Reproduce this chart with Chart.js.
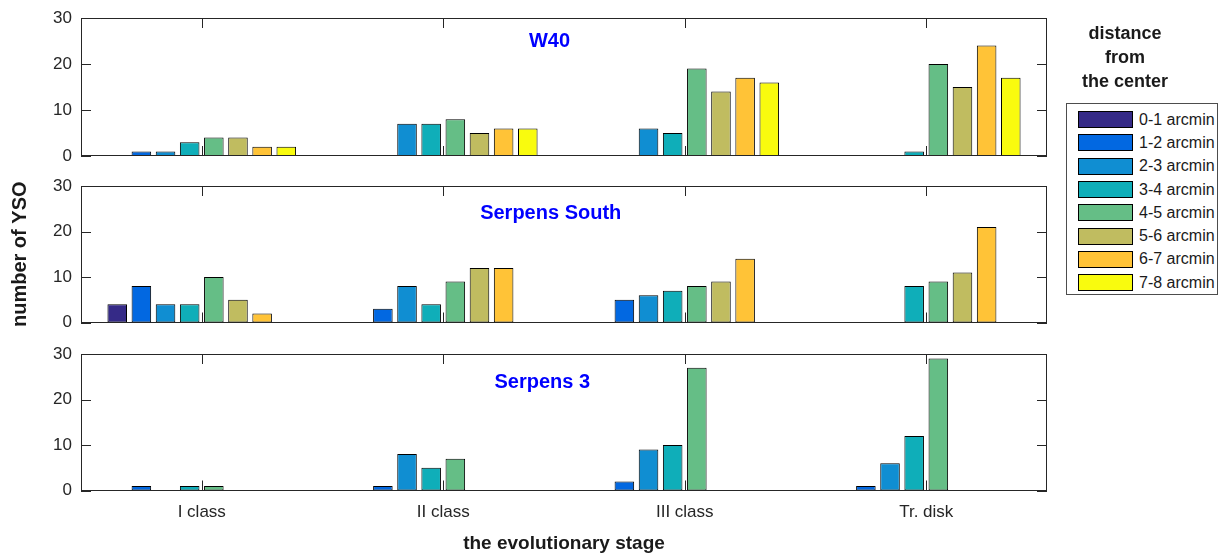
<!DOCTYPE html>
<html>
<head>
<meta charset="utf-8">
<script src="https://cdn.jsdelivr.net/npm/chart.js@4.4.1/dist/chart.umd.min.js"></script>
<style>
  html, body { margin: 0; padding: 0; background: #fff; }
  body { width: 1220px; height: 553px; position: relative; overflow: hidden;
         font-family: 'Liberation Sans', Arial, sans-serif; color: #262626; }
  canvas { position: absolute; left: 0; }
  #legendTitle { position: absolute; left: 1030px; top: 21px; width: 190px; text-align: center;
                 font-weight: bold; font-size: 18px; line-height: 24px; color: #1a1a1a; }
  #legendBox { position: absolute; left: 1066px; top: 103px; width: 152px; height: 192px;
               border: 1px solid #4d4d4d; background: #fff; padding-top: 4px; box-sizing: border-box; }
  .row { height: 23.3px; display: flex; align-items: center; white-space: nowrap; }
  .sw { width: 55px; height: 17px; margin-left: 11px; margin-right: 6px; border: 1px solid #000; box-sizing: border-box; }
  .lab { font-size: 16px; color: #1a1a1a; }
</style>
</head>
<body>
<canvas id="p1" width="1060" height="188" style="top:-7px"></canvas>
<canvas id="p2" width="1060" height="187" style="top:161px"></canvas>
<canvas id="p3" width="1060" height="224" style="top:329px"></canvas>
<div id="legendTitle">distance<br>from<br>the center</div>
<div id="legendBox"></div>
<script>
// Evolutionary stages (x categories) and distance bins (series)
const stages = ['I class', 'II class', 'III class', 'Tr. disk'];
const bins = ['0-1 arcmin', '1-2 arcmin', '2-3 arcmin', '3-4 arcmin',
              '4-5 arcmin', '5-6 arcmin', '6-7 arcmin', '7-8 arcmin'];
const yTicks = [0, 10, 20, 30];

// YSO counts per stage, listed by distance bin (0-1 ... 7-8 arcmin)
const w40ClassI   = [0, 1, 1, 3, 4, 4, 2, 2];
const w40ClassII  = [0, 0, 7, 7, 8, 5, 6, 6];
const w40ClassIII = [0, 0, 6, 5, 19, 14, 17, 16];
const w40TrDisk   = [0, 0, 0, 1, 20, 15, 24, 17];

const serSouthClassI   = [4, 8, 4, 4, 10, 5, 2, 0];
const serSouthClassII  = [0, 3, 8, 4, 9, 12, 12, 0];
const serSouthClassIII = [0, 5, 6, 7, 8, 9, 14, 0];
const serSouthTrDisk   = [0, 0, 0, 8, 9, 11, 21, 0];

const ser3ClassI   = [0, 1, 0, 1, 1, 0, 0, 0];
const ser3ClassII  = [0, 1, 8, 5, 7, 0, 0, 0];
const ser3ClassIII = [0, 2, 9, 10, 27, 0, 0, 0];
const ser3TrDisk   = [0, 1, 6, 12, 29, 0, 0, 0];

const binColors = ['#352A87', '#0268E1', '#108ED2', '#0FAEB9',
                   '#65BE86', '#C0BC60', '#FFC337', '#F9FB0E'];

const AXIS = '#262626';
const TICK = 10;
const FONT = "'Liberation Sans', Arial, sans-serif";
Chart.defaults.font.family = FONT;
Chart.defaults.color = AXIS;

// Box around the plot area with inward ticks on all four sides
const axesFrame = {
  id: 'axesFrame',
  beforeDatasetsDraw(chart) {
    const { ctx, chartArea: a, scales: { x, y } } = chart;
    ctx.save();
    ctx.strokeStyle = AXIS;
    ctx.lineWidth = 1;
    ctx.beginPath();
    stages.forEach((_, i) => {
      const px = Math.round(x.getPixelForValue(i)) + 0.5;
      ctx.moveTo(px, a.bottom); ctx.lineTo(px, a.bottom - TICK);
      ctx.moveTo(px, a.top); ctx.lineTo(px, a.top + TICK);
    });
    yTicks.forEach(v => {
      const py = Math.round(y.getPixelForValue(v)) + 0.5;
      ctx.moveTo(a.left, py); ctx.lineTo(a.left + TICK, py);
      ctx.moveTo(a.right, py); ctx.lineTo(a.right - TICK, py);
    });
    ctx.stroke();
    ctx.restore();
  },
  afterDatasetsDraw(chart) {
    const { ctx, chartArea: a } = chart;
    ctx.save();
    ctx.strokeStyle = AXIS;
    ctx.lineWidth = 1;
    const l = Math.round(a.left) + 0.5, r = Math.round(a.right) - 0.5;
    const t = Math.round(a.top) + 0.5, b = Math.round(a.bottom) - 0.5;
    ctx.strokeRect(l, t, r - l, b - t);
    ctx.restore();
  }
};

// Region name written inside the plot, anchored at data coordinates
const regionLabel = {
  id: 'regionLabel',
  afterDraw(chart, args, opts) {
    if (!opts.text) return;
    const { ctx, scales: { x, y } } = chart;
    ctx.save();
    ctx.font = 'bold 20px ' + FONT;
    ctx.fillStyle = '#0000FF';
    ctx.textAlign = 'center';
    ctx.textBaseline = 'middle';
    ctx.fillText(opts.text, x.getPixelForValue(opts.x), y.getPixelForValue(opts.y));
    ctx.restore();
  }
};

function makeDatasets(rows) {
  return bins.map((b, k) => ({
    label: b,
    data: rows.map(r => r[k]),
    backgroundColor: binColors[k],
    borderColor: '#000',
    borderWidth: 1,
    borderSkipped: false,
    categoryPercentage: 0.8,
    barPercentage: 0.81
  }));
}

function makePanel(id, rows, name, anchor, opts) {
  new Chart(document.getElementById(id), {
    type: 'bar',
    data: { labels: stages, datasets: makeDatasets(rows) },
    plugins: [axesFrame, regionLabel],
    options: {
      responsive: false,
      animation: false,
      layout: { padding: { left: 0, right: 13, top: opts.top, bottom: opts.bottom } },
      plugins: {
        legend: { display: false },
        tooltip: { enabled: false },
        regionLabel: { text: name, x: anchor.x, y: anchor.y }
      },
      scales: {
        x: {
          display: opts.showX,
          grid: { display: false, drawTicks: false },
          border: { display: false },
          ticks: { font: { size: 17 }, padding: 12, color: AXIS },
          title: {
            display: opts.showX,
            text: 'the evolutionary stage',
            font: { size: 19, weight: 'bold', lineHeight: 1 },
            color: '#1a1a1a',
            padding: { top: 0, bottom: 0 }
          },
          afterFit(s) { if (opts.showX) s.height = 62.5; }
        },
        y: {
          min: 0, max: 30,
          grid: { display: false, drawTicks: false },
          border: { display: false },
          afterBuildTicks(s) { s.ticks = yTicks.map(v => ({ value: v })); },
          ticks: { font: { size: 17 }, padding: 9, color: AXIS },
          title: {
            display: opts.showY,
            text: 'number of YSO',
            font: { size: 20, weight: 'bold', lineHeight: 1 },
            color: '#1a1a1a',
            padding: { top: 10, bottom: 0 }
          },
          afterFit(s) { s.width = 81; }
        }
      }
    }
  });
}

makePanel('p1', [w40ClassI, w40ClassII, w40ClassIII, w40TrDisk], 'W40',
          { x: 1.44, y: 24.9 }, { top: 25, bottom: 25, showX: false, showY: false });
makePanel('p2', [serSouthClassI, serSouthClassII, serSouthClassIII, serSouthTrDisk], 'Serpens South',
          { x: 1.445, y: 24.0 }, { top: 25, bottom: 25.5, showX: false, showY: true });
makePanel('p3', [ser3ClassI, ser3ClassII, ser3ClassIII, ser3TrDisk], 'Serpens 3',
          { x: 1.41, y: 23.7 }, { top: 25, bottom: 0, showX: true, showY: false });

// Legend built from the same series names and colours
const box = document.getElementById('legendBox');
bins.forEach((b, k) => {
  const row = document.createElement('div');
  row.className = 'row';
  const sw = document.createElement('div');
  sw.className = 'sw';
  sw.style.background = binColors[k];
  const lab = document.createElement('span');
  lab.className = 'lab';
  lab.textContent = b;
  row.appendChild(sw);
  row.appendChild(lab);
  box.appendChild(row);
});
</script>
</body>
</html>
